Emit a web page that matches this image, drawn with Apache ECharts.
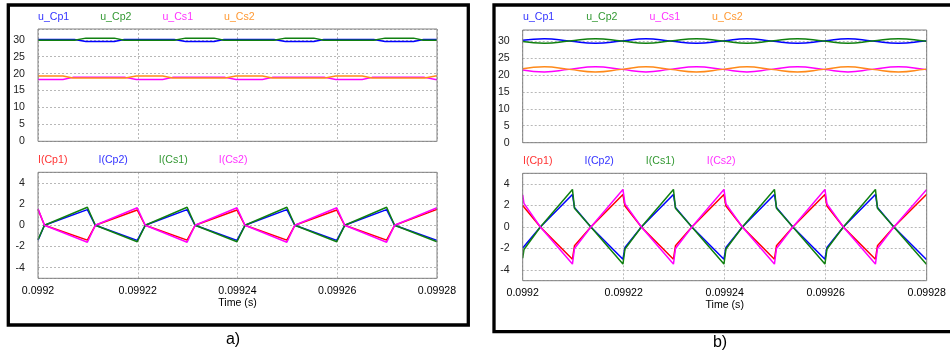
<!DOCTYPE html>
<html>
<head>
<meta charset="utf-8">
<script src="https://cdn.jsdelivr.net/npm/echarts@6/dist/echarts.min.js"></script>
<style>
  html, body { margin: 0; padding: 0; background: #fff; }
  #main { width: 950px; height: 352px; }
</style>
</head>
<body>
<div id="main"></div>
<script>
// time origin and axis range (s); sample times below are in microseconds after T0
var T0 = 0.0992;
var T_END = 0.09928;
var T_STEP = 0.00002;

// ---- a) capacitor voltages ----
var tVaP = [0, 7.3, 9.6, 15.3, 17.3, 27.3, 29.6, 35.3, 37.3, 47.3, 49.6, 55.3, 57.3, 67.3, 69.6, 75.3, 77.3, 80];
var uCp1A = [30.1, 30.1, 29.5, 29.5, 30.1, 30.1, 29.5, 29.5, 30.1, 30.1, 29.5, 29.5, 30.1, 30.1, 29.5, 29.5, 30.1, 30.1];
var uCp2A = [29.9, 29.9, 30.5, 30.5, 29.9, 29.9, 30.5, 30.5, 29.9, 29.9, 30.5, 30.5, 29.9, 29.9, 30.5, 30.5, 29.9, 29.9];
var tVaS = [0, 5, 7, 17.5, 19.7, 25, 27, 37.5, 39.7, 45, 47, 57.5, 59.7, 65, 67, 77.5, 79.7, 80];
var uCs1A = [18.3, 18.3, 18.9, 18.9, 18.3, 18.3, 18.9, 18.9, 18.3, 18.3, 18.9, 18.9, 18.3, 18.3, 18.9, 18.9, 18.3, 18.3];
var uCs2A = [19.3, 19.3, 18.7, 18.7, 19.3, 19.3, 18.7, 18.7, 19.3, 19.3, 18.7, 18.7, 19.3, 19.3, 18.7, 18.7, 19.3, 19.3];

// ---- a) capacitor currents ----
var tIA = [0, 1.3, 9.9, 11.5, 19.9, 21.5, 29.9, 31.5, 39.9, 41.5, 49.9, 51.5, 59.9, 61.5, 69.9, 71.5, 80];
var iCp1A = [1.5, 0, -1.4, 0, 1.45, 0, -1.4, 0, 1.45, 0, -1.4, 0, 1.45, 0, -1.4, 0, 1.5];
var iCp2A = [-1.4, 0, 1.48, 0, -1.42, 0, 1.48, 0, -1.42, 0, 1.48, 0, -1.42, 0, 1.48, 0, -1.42];
var iCs1A = [-1.35, 0, 1.7, 0, -1.55, 0, 1.7, 0, -1.55, 0, 1.7, 0, -1.55, 0, 1.7, 0, -1.55];
var iCs2A = [1.55, 0, -1.6, 0, 1.65, 0, -1.6, 0, 1.65, 0, -1.6, 0, 1.65, 0, -1.6, 0, 1.65];

// ---- b) capacitor voltages ----
var tVB = [0, 4.3, 9.2, 14.4, 19.6, 24.4, 29.2, 34.4, 39.6, 44.4, 49.2, 54.4, 59.6, 64.4, 69.2, 74.4, 79.6, 80];
var uCp1B = [30.15, 30.6, 29.95, 29.3, 29.95, 30.6, 29.95, 29.3, 29.95, 30.6, 29.95, 29.3, 29.95, 30.6, 29.95, 29.3, 29.95, 30.05];
var uCp2B = [29.8, 29.3, 29.95, 30.65, 29.95, 29.3, 29.95, 30.65, 29.95, 29.3, 29.95, 30.65, 29.95, 29.3, 29.95, 30.65, 29.95, 29.85];
var uCs1B = [21.4, 20.85, 21.6, 22.35, 21.6, 20.85, 21.6, 22.35, 21.6, 20.85, 21.6, 22.35, 21.6, 20.85, 21.6, 22.35, 21.6, 21.5];
var uCs2B = [21.8, 22.35, 21.6, 20.85, 21.6, 22.35, 21.6, 20.85, 21.6, 22.35, 21.6, 20.85, 21.6, 22.35, 21.6, 20.85, 21.6, 21.7];

// ---- b) capacitor currents ----
var tIB = [0, 0.25, 3.5, 9.85, 10.25, 13.5, 19.85, 20.25, 23.5, 29.85, 30.25, 33.5, 39.85, 40.25, 43.5, 49.85, 50.25, 53.5, 59.85, 60.25, 63.5, 69.85, 70.25, 73.5, 80];
var iCp1B = [2.0, 1.9, 0, -3.0, -1.75, 0, 3.03, 1.95, 0, -3.0, -1.75, 0, 3.03, 1.95, 0, -3.0, -1.75, 0, 3.03, 1.95, 0, -3.0, -1.75, 0, 3.05];
var iCp2B = [-1.95, -1.9, 0, 3.03, 1.82, 0, -3.0, -1.9, 0, 3.03, 1.82, 0, -3.0, -1.9, 0, 3.03, 1.82, 0, -3.0, -1.9, 0, 3.03, 1.82, 0, -3.05];
var iCs1B = [-2.9, -2.1, 0, 3.5, 1.75, 0, -3.45, -2.05, 0, 3.5, 1.75, 0, -3.45, -2.05, 0, 3.5, 1.75, 0, -3.45, -2.05, 0, 3.5, 1.75, 0, -3.5];
var iCs2B = [3.0, 2.2, 0, -3.45, -2.0, 0, 3.5, 2.15, 0, -3.45, -2.0, 0, 3.5, 2.15, 0, -3.45, -2.0, 0, 3.5, 2.15, 0, -3.45, -2.0, 0, 3.5];

var uNames = ['u_Cp1', 'u_Cp2', 'u_Cs1', 'u_Cs2'];
var iNames = ['I(Cp1)', 'I(Cp2)', 'I(Cs1)', 'I(Cs2)'];

var FONT = "'Liberation Sans', Arial, sans-serif";
var BLUE = '#0000ff', GREEN = '#108010', MAGENTA = '#ff00ff', ORANGE = '#ff8a1a', RED = '#ff0000';

function pairs(ts, vs) {
  return ts.map(function (t, i) { return [T0 + t * 1e-6, vs[i]]; });
}

function line(name, idx, ts, vs, color, smooth) {
  return {
    name: name, type: 'line', xAxisIndex: idx, yAxisIndex: idx,
    data: pairs(ts, vs), showSymbol: false, smooth: smooth ? 0.5 : false,
    lineStyle: { color: color, width: 1.5 }, itemStyle: { color: color }
  };
}

var gridLine = { show: true, lineStyle: { color: '#b8b8b8', width: 1, type: [2, 2] } };

function xAx(idx, labels) {
  return {
    type: 'value', gridIndex: idx, min: T0, max: T_END, interval: T_STEP,
    axisLine: { show: false }, axisTick: { show: false },
    splitLine: gridLine,
    axisLabel: { show: labels, color: '#000', fontSize: 10.6, fontFamily: FONT, margin: 7 },
    name: labels ? 'Time (s)' : '', nameLocation: 'middle', nameGap: 19,
    nameTextStyle: { color: '#000', fontSize: 10.6, fontFamily: FONT }
  };
}

function yVolt(idx) {
  return {
    type: 'value', gridIndex: idx, min: 0, max: 33.2, interval: 5,
    axisLine: { show: false }, axisTick: { show: false }, splitLine: gridLine,
    axisLabel: { color: '#222', fontSize: 10.6, fontFamily: FONT, margin: 13, showMaxLabel: false }
  };
}

function yCurr(idx) {
  return {
    type: 'value', gridIndex: idx, min: -5, max: 5, splitNumber: 5,
    axisLine: { show: false }, axisTick: { show: false }, splitLine: gridLine,
    axisLabel: { color: '#222', fontSize: 10.6, fontFamily: FONT, margin: 13, showMinLabel: false, showMaxLabel: false }
  };
}

function legend(names, colors, left, top, gap) {
  return {
    left: left, top: top, itemGap: gap, itemWidth: 0, itemHeight: 10, icon: 'none',
    selectedMode: false,
    data: names.map(function (n, i) {
      return { name: n, textStyle: { color: colors[i], fontSize: 10.6, fontFamily: FONT } };
    })
  };
}

var uTxt = ['#3333ff', '#339933', '#ff33ff', '#ff9933'];
var iTxt = ['#ff3333', '#3333ff', '#339933', '#ff33ff'];

// plot areas in px
var boxes = [
  { left: 38, top: 29, width: 399, height: 112.3 },
  { left: 38, top: 172.3, width: 399, height: 106 },
  { left: 522.7, top: 30, width: 404, height: 112.7 },
  { left: 522.7, top: 173.3, width: 404, height: 107.4 }
];

var chart = echarts.init(document.getElementById('main'), null, { renderer: 'canvas' });

var option = {
  animation: false,
  backgroundColor: '#fff',
  textStyle: { fontFamily: FONT },
  grid: boxes.map(function (b) {
    return { left: b.left, top: b.top, width: b.width, height: b.height, outerBoundsMode: 'none', containLabel: false };
  }),
  xAxis: [xAx(0, false), xAx(1, true), xAx(2, false), xAx(3, true)],
  yAxis: [yVolt(0), yCurr(1), yVolt(2), yCurr(3)],
  legend: [
    legend(uNames, uTxt, 28, 7, 26),
    legend(iNames, iTxt, 28, 149.5, 26),
    legend(uNames, uTxt, 513, 7, 27),
    legend(iNames, iTxt, 513, 151, 27)
  ],
  series: [
    line('u_Cp1', 0, tVaP, uCp1A, BLUE),
    line('u_Cp2', 0, tVaP, uCp2A, GREEN),
    line('u_Cs1', 0, tVaS, uCs1A, MAGENTA),
    line('u_Cs2', 0, tVaS, uCs2A, ORANGE),

    line('I(Cp1)', 1, tIA, iCp1A, RED),
    line('I(Cp2)', 1, tIA, iCp2A, BLUE),
    line('I(Cs1)', 1, tIA, iCs1A, GREEN),
    line('I(Cs2)', 1, tIA, iCs2A, MAGENTA),

    line('u_Cp1', 2, tVB, uCp1B, BLUE, true),
    line('u_Cp2', 2, tVB, uCp2B, GREEN, true),
    line('u_Cs1', 2, tVB, uCs1B, MAGENTA, true),
    line('u_Cs2', 2, tVB, uCs2B, ORANGE, true),

    line('I(Cp1)', 3, tIB, iCp1B, RED),
    line('I(Cp2)', 3, tIB, iCp2B, BLUE),
    line('I(Cs1)', 3, tIB, iCs1B, GREEN),
    line('I(Cs2)', 3, tIB, iCs2B, MAGENTA)
  ],
  graphic: boxes.map(function (b) {
    return {
      type: 'rect', z: 100, silent: true,
      shape: { x: b.left, y: b.top, width: b.width, height: b.height },
      style: { fill: null, stroke: '#808080', lineWidth: 1 }
    };
  }).concat([
    // outer black frames
    { type: 'rect', z: 100, silent: true,
      shape: { x: 8.3, y: 5, width: 460, height: 320 },
      style: { fill: null, stroke: '#000', lineWidth: 3.3 } },
    { type: 'rect', z: 100, silent: true,
      shape: { x: 494, y: 5, width: 470, height: 326.7 },
      style: { fill: null, stroke: '#000', lineWidth: 3.3 } },
    { type: 'text', z: 100, silent: true, x: 233, y: 340,
      style: { text: 'a)', fill: '#000', font: "16px 'Liberation Sans', Arial, sans-serif", align: 'center', verticalAlign: 'middle' } },
    { type: 'text', z: 100, silent: true, x: 720, y: 343,
      style: { text: 'b)', fill: '#000', font: "16px 'Liberation Sans', Arial, sans-serif", align: 'center', verticalAlign: 'middle' } }
  ])
};

chart.setOption(option);
</script>
</body>
</html>
